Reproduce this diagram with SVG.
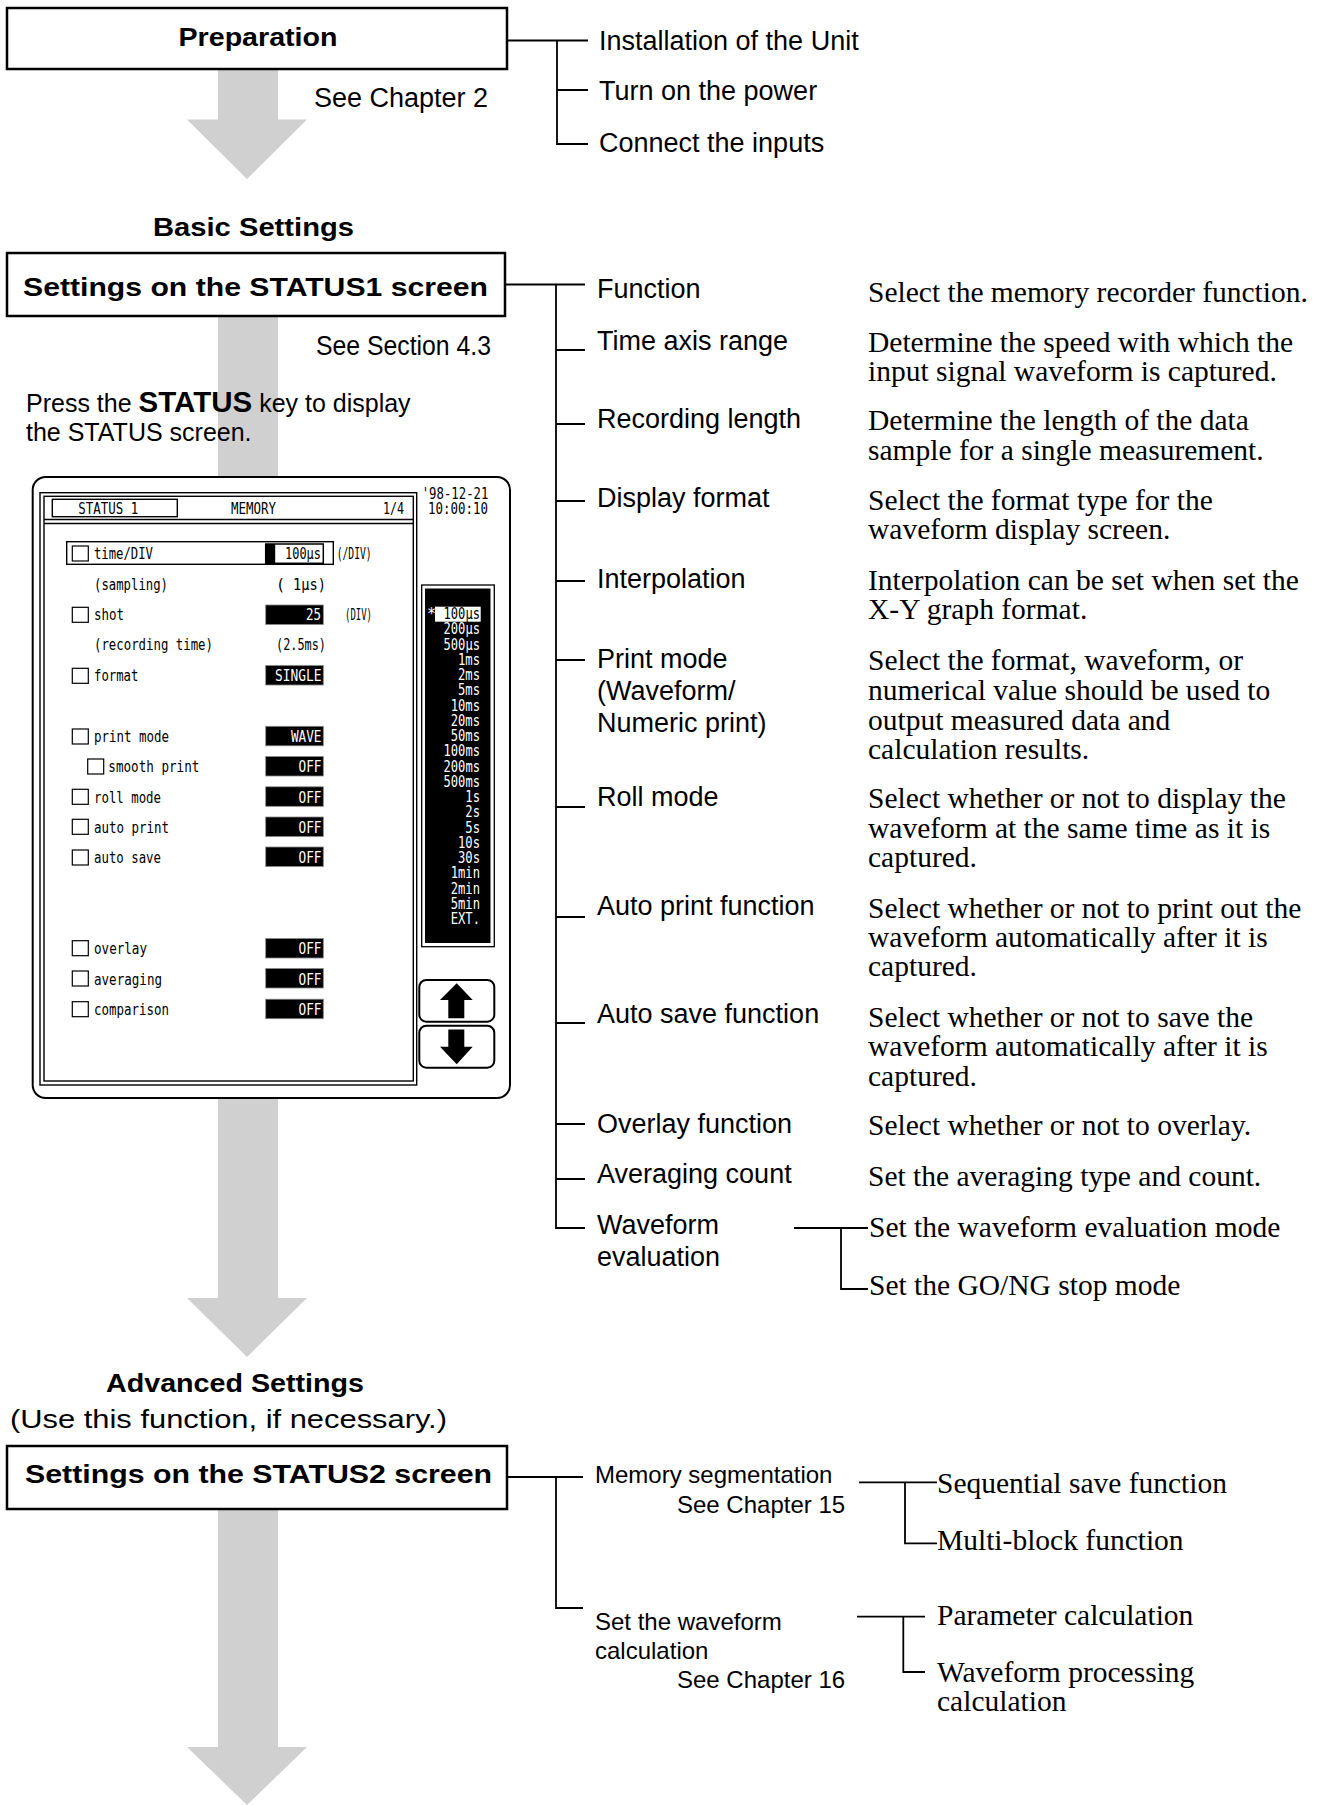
<svg xmlns="http://www.w3.org/2000/svg" width="1329" height="1805" viewBox="0 0 1329 1805">
<style>
.box{fill:#fff;stroke:#000;stroke-width:2.5}
.h{font-family:"Liberation Sans",Arial,sans-serif;font-weight:bold;font-size:26px;fill:#000}
.hr{font-family:"Liberation Sans",Arial,sans-serif;font-size:26px;fill:#000}
.lb{font-family:"Liberation Sans",Arial,sans-serif;font-size:27px;fill:#000}
.sm{font-family:"Liberation Sans",Arial,sans-serif;font-size:24px;fill:#000}
.pn{font-family:"Liberation Sans",Arial,sans-serif;font-size:25px;fill:#000}
.ds{font-family:"Liberation Serif","Times New Roman",serif;font-size:29.5px;fill:#000}
.ln{fill:none;stroke:#000;stroke-width:1.8}
.gray{fill:#d0d0d0}
.px{font-family:"DejaVu Sans Mono","Liberation Mono",monospace;font-size:15px;fill:#000}
.pw{font-family:"DejaVu Sans Mono","Liberation Mono",monospace;font-size:15px;fill:#fff}
.cb{fill:#fff;stroke:#000;stroke-width:1.2}
.fr{fill:none;stroke:#000;stroke-width:1.4}
.vb{fill:#000;stroke:#888;stroke-width:0.8}
</style>

<g id="flow-arrows">
  <polygon class="gray" points="218,69 278,69 278,119.5 307,119.5 247,179 187,119.5 218,119.5"/>
  <polygon class="gray" points="218,317 278,317 278,1298 307,1298 247,1357 187,1298 218,1298"/>
  <polygon class="gray" points="218,1509 278,1509 278,1747 307,1747 247,1805 187,1747 218,1747"/>
</g>

<g id="connectors">
  <path class="ln" d="M507,40.5 H588 M557,40.5 V144 H588 M557,90 H588"/>
  <path class="ln" d="M505,284.5 H585 M556,284.5 V1228 H585 M556,350 H585 M556,424 H585 M556,501 H585 M556,581 H585 M556,660 H585 M556,807 H585 M556,917 H585 M556,1023 H585 M556,1124 H585 M556,1179 H585"/>
  <path class="ln" d="M794,1228 H868 M841,1228 V1289 H868"/>
  <path class="ln" d="M508,1477 H583 M556,1477 V1608 H583"/>
  <path class="ln" d="M859,1482.3 H937 M905,1482.3 V1543.3 H937"/>
  <path class="ln" d="M857,1616.7 H925 M903.3,1616.7 V1672 H925"/>
</g>

<g id="node-preparation">
  <rect class="box" x="7" y="8" width="500" height="61"/>
  <text class="h" x="178.5" y="46" textLength="159" lengthAdjust="spacingAndGlyphs">Preparation</text>
  <text class="lb" x="314" y="107">See Chapter 2</text>
</g>

<g id="prep-items">
  <text class="lb" x="599" y="50">Installation of the Unit</text>
  <text class="lb" x="599" y="100">Turn on the power</text>
  <text class="lb" x="599" y="152">Connect the inputs</text>
</g>

<text id="title-basic" class="h" x="153" y="236" textLength="201" lengthAdjust="spacingAndGlyphs">Basic Settings</text>

<g id="node-status1">
  <rect class="box" x="7" y="253" width="498" height="63"/>
  <text class="h" x="23" y="296" textLength="465" lengthAdjust="spacingAndGlyphs">Settings on the STATUS1 screen</text>
  <text class="lb" x="316" y="355" font-size="25" textLength="175" lengthAdjust="spacingAndGlyphs">See Section 4.3</text>
</g>

<g id="press-note">
  <text class="pn" x="26" y="412">Press the <tspan font-weight="bold" font-size="29.5">STATUS</tspan> key to display</text>
  <text class="pn" x="26" y="441">the STATUS screen.</text>
</g>

<g id="status-screen">
  <rect x="32.7" y="477" width="477.3" height="621" rx="13" fill="#fff" stroke="#000" stroke-width="2"/>
  <rect class="fr" x="40" y="492.7" width="376.7" height="592.3"/>
  <rect class="fr" x="44" y="496.3" width="369.3" height="584.7"/>
  <path class="fr" d="M44,519.5 H413.3 M44,523.5 H413.3"/>
  <rect class="fr" x="52.3" y="499.3" width="125" height="17.4"/>
  <text class="px" x="78.3" y="514" textLength="60" lengthAdjust="spacingAndGlyphs">STATUS 1</text>
  <text class="px" x="231" y="514" textLength="45" lengthAdjust="spacingAndGlyphs">MEMORY</text>
  <text class="px" x="383" y="514" textLength="21" lengthAdjust="spacingAndGlyphs">1/4</text>
  <text class="px" x="421.7" y="499" textLength="66.7" lengthAdjust="spacingAndGlyphs">'98-12-21</text>
  <text class="px" x="428" y="514" textLength="60" lengthAdjust="spacingAndGlyphs">10:00:10</text>

  <rect class="fr" x="66.7" y="541.7" width="266.6" height="22.6" stroke-width="1.2"/>
  <rect x="265.7" y="544" width="57.6" height="19.3" fill="#fff" stroke="#000" stroke-width="1.5"/>
  <rect x="265.7" y="544" width="9.5" height="19.3" fill="#000"/>
  <text class="px" x="285" y="559" textLength="36" lengthAdjust="spacingAndGlyphs">100μs</text>
  <text class="px" x="336.7" y="559" font-size="12.5" textLength="35" lengthAdjust="spacingAndGlyphs">(/DIV)</text>

  <g id="lcd-rows">
    <rect class="cb" x="72.3" y="546" width="16" height="15"/>
    <text class="px" x="94" y="559" textLength="59" lengthAdjust="spacingAndGlyphs">time/DIV</text>
    <text class="px" x="94" y="589.5" textLength="74" lengthAdjust="spacingAndGlyphs">(sampling)</text>
    <text class="px" x="276" y="589.5">(</text>
    <text class="px" x="293" y="589.5" textLength="33" lengthAdjust="spacingAndGlyphs">1μs)</text>

    <rect class="cb" x="72.3" y="607.3" width="16" height="15"/>
    <text class="px" x="94" y="620" textLength="30" lengthAdjust="spacingAndGlyphs">shot</text>
    <rect class="vb" x="265.7" y="605" width="57.6" height="19.5"/>
    <text class="pw" x="306" y="620" textLength="15" lengthAdjust="spacingAndGlyphs">25</text>
    <text class="px" x="345" y="620" font-size="12.5" textLength="27" lengthAdjust="spacingAndGlyphs">(DIV)</text>

    <text class="px" x="94" y="650" textLength="119" lengthAdjust="spacingAndGlyphs">(recording time)</text>
    <text class="px" x="276" y="650" textLength="50" lengthAdjust="spacingAndGlyphs">(2.5ms)</text>

    <rect class="cb" x="72.3" y="668.3" width="16" height="15"/>
    <text class="px" x="94" y="680.5" textLength="44.4" lengthAdjust="spacingAndGlyphs">format</text>
    <rect class="vb" x="265.7" y="665.5" width="57.6" height="19.5"/>
    <text class="pw" x="275" y="680.5" textLength="46.5" lengthAdjust="spacingAndGlyphs">SINGLE</text>

    <rect class="cb" x="72.3" y="729" width="16" height="15"/>
    <text class="px" x="94" y="741.5" textLength="75" lengthAdjust="spacingAndGlyphs">print mode</text>
    <rect class="vb" x="265.7" y="726.3" width="57.6" height="19.5"/>
    <text class="pw" x="291" y="741.5" textLength="30.5" lengthAdjust="spacingAndGlyphs">WAVE</text>

    <rect class="cb" x="87.7" y="759" width="16" height="15"/>
    <text class="px" x="108.3" y="771.5" textLength="91" lengthAdjust="spacingAndGlyphs">smooth print</text>
    <rect class="vb" x="265.7" y="756.5" width="57.6" height="19.5"/>
    <text class="pw" x="298.5" y="771.5" textLength="23" lengthAdjust="spacingAndGlyphs">OFF</text>

    <rect class="cb" x="72.3" y="789.3" width="16" height="15"/>
    <text class="px" x="94" y="802.5" textLength="67" lengthAdjust="spacingAndGlyphs">roll mode</text>
    <rect class="vb" x="265.7" y="786.8" width="57.6" height="19.5"/>
    <text class="pw" x="298.5" y="802.5" textLength="23" lengthAdjust="spacingAndGlyphs">OFF</text>

    <rect class="cb" x="72.3" y="819.3" width="16" height="15"/>
    <text class="px" x="94" y="832.5" textLength="75" lengthAdjust="spacingAndGlyphs">auto print</text>
    <rect class="vb" x="265.7" y="817" width="57.6" height="19.5"/>
    <text class="pw" x="298.5" y="832.5" textLength="23" lengthAdjust="spacingAndGlyphs">OFF</text>

    <rect class="cb" x="72.3" y="850" width="16" height="15"/>
    <text class="px" x="94" y="863" textLength="67" lengthAdjust="spacingAndGlyphs">auto save</text>
    <rect class="vb" x="265.7" y="847" width="57.6" height="19.5"/>
    <text class="pw" x="298.5" y="863" textLength="23" lengthAdjust="spacingAndGlyphs">OFF</text>

    <rect class="cb" x="72.3" y="940.7" width="16" height="15"/>
    <text class="px" x="94" y="954" textLength="53" lengthAdjust="spacingAndGlyphs">overlay</text>
    <rect class="vb" x="265.7" y="938.5" width="57.6" height="19.5"/>
    <text class="pw" x="298.5" y="954" textLength="23" lengthAdjust="spacingAndGlyphs">OFF</text>

    <rect class="cb" x="72.3" y="971" width="16" height="15"/>
    <text class="px" x="94" y="984.5" textLength="68" lengthAdjust="spacingAndGlyphs">averaging</text>
    <rect class="vb" x="265.7" y="968.5" width="57.6" height="19.5"/>
    <text class="pw" x="298.5" y="984.5" textLength="23" lengthAdjust="spacingAndGlyphs">OFF</text>

    <rect class="cb" x="72.3" y="1001.7" width="16" height="15"/>
    <text class="px" x="94" y="1015" textLength="75" lengthAdjust="spacingAndGlyphs">comparison</text>
    <rect class="vb" x="265.7" y="999.2" width="57.6" height="19.5"/>
    <text class="pw" x="298.5" y="1015" textLength="23" lengthAdjust="spacingAndGlyphs">OFF</text>
  </g>

  <g id="range-list">
    <rect x="421.7" y="585" width="72.6" height="361.7" fill="#fff" stroke="#000" stroke-width="1.3"/>
    <rect x="425" y="588.5" width="65.5" height="354.5" fill="#000"/>
    <text class="pw" x="427" y="619">*</text>
    <rect x="435" y="606.7" width="45.7" height="15" fill="#fff"/>
    <g text-anchor="end">
      <text class="px" x="480" y="619" textLength="36.5" lengthAdjust="spacingAndGlyphs">100μs</text>
      <text class="pw" x="480" y="634.3" textLength="36.5" lengthAdjust="spacingAndGlyphs">200μs</text>
      <text class="pw" x="480" y="649.5" textLength="36.5" lengthAdjust="spacingAndGlyphs">500μs</text>
      <text class="pw" x="480" y="664.8" textLength="22" lengthAdjust="spacingAndGlyphs">1ms</text>
      <text class="pw" x="480" y="680" textLength="22" lengthAdjust="spacingAndGlyphs">2ms</text>
      <text class="pw" x="480" y="695.3" textLength="22" lengthAdjust="spacingAndGlyphs">5ms</text>
      <text class="pw" x="480" y="710.5" textLength="29.3" lengthAdjust="spacingAndGlyphs">10ms</text>
      <text class="pw" x="480" y="725.8" textLength="29.3" lengthAdjust="spacingAndGlyphs">20ms</text>
      <text class="pw" x="480" y="741" textLength="29.3" lengthAdjust="spacingAndGlyphs">50ms</text>
      <text class="pw" x="480" y="756.3" textLength="36.5" lengthAdjust="spacingAndGlyphs">100ms</text>
      <text class="pw" x="480" y="771.5" textLength="36.5" lengthAdjust="spacingAndGlyphs">200ms</text>
      <text class="pw" x="480" y="786.8" textLength="36.5" lengthAdjust="spacingAndGlyphs">500ms</text>
      <text class="pw" x="480" y="802" textLength="14.7" lengthAdjust="spacingAndGlyphs">1s</text>
      <text class="pw" x="480" y="817.3" textLength="14.7" lengthAdjust="spacingAndGlyphs">2s</text>
      <text class="pw" x="480" y="832.5" textLength="14.7" lengthAdjust="spacingAndGlyphs">5s</text>
      <text class="pw" x="480" y="847.8" textLength="22" lengthAdjust="spacingAndGlyphs">10s</text>
      <text class="pw" x="480" y="863" textLength="22" lengthAdjust="spacingAndGlyphs">30s</text>
      <text class="pw" x="480" y="878.3" textLength="29.3" lengthAdjust="spacingAndGlyphs">1min</text>
      <text class="pw" x="480" y="893.5" textLength="29.3" lengthAdjust="spacingAndGlyphs">2min</text>
      <text class="pw" x="480" y="908.8" textLength="29.3" lengthAdjust="spacingAndGlyphs">5min</text>
      <text class="pw" x="480" y="924" textLength="29.3" lengthAdjust="spacingAndGlyphs">EXT.</text>
    </g>
  </g>

  <g id="scroll-buttons">
    <rect x="419.3" y="980" width="75" height="41.7" rx="7" fill="#fff" stroke="#000" stroke-width="2"/>
    <polygon points="456.7,983.3 472.7,1000 464.3,1000 464.3,1018.3 448.3,1018.3 448.3,1000 440,1000" fill="#000"/>
    <rect x="419.3" y="1025.7" width="75" height="42" rx="7" fill="#fff" stroke="#000" stroke-width="2"/>
    <polygon points="448.3,1029.5 464.3,1029.5 464.3,1046.7 472.7,1046.7 456.7,1064.3 440,1046.7 448.3,1046.7" fill="#000"/>
  </g>
</g>

<g id="status1-items">
  <text class="lb" x="597" y="298">Function</text>
  <text class="lb" x="597" y="350">Time axis range</text>
  <text class="lb" x="597" y="428">Recording length</text>
  <text class="lb" x="597" y="507">Display format</text>
  <text class="lb" x="597" y="588">Interpolation</text>
  <text class="lb" x="597" y="668">Print mode</text>
  <text class="lb" x="597" y="700">(Waveform/</text>
  <text class="lb" x="597" y="732">Numeric print)</text>
  <text class="lb" x="597" y="806">Roll mode</text>
  <text class="lb" x="597" y="915">Auto print function</text>
  <text class="lb" x="597" y="1023">Auto save function</text>
  <text class="lb" x="597" y="1133">Overlay function</text>
  <text class="lb" x="597" y="1183">Averaging count</text>
  <text class="lb" x="597" y="1234">Waveform</text>
  <text class="lb" x="597" y="1266">evaluation</text>
</g>

<g id="status1-descriptions">
  <text class="ds" x="868" y="302">Select the memory recorder function.</text>
  <text class="ds" x="868" y="352">Determine the speed with which the</text>
  <text class="ds" x="868" y="381">input signal waveform is captured.</text>
  <text class="ds" x="868" y="430">Determine the length of the data</text>
  <text class="ds" x="868" y="459.5">sample for a single measurement.</text>
  <text class="ds" x="868" y="509.5">Select the format type for the</text>
  <text class="ds" x="868" y="539">waveform display screen.</text>
  <text class="ds" x="868" y="589.5">Interpolation can be set when set the</text>
  <text class="ds" x="868" y="619">X-Y graph format.</text>
  <text class="ds" x="868" y="670">Select the format, waveform, or</text>
  <text class="ds" x="868" y="699.5">numerical value should be used to</text>
  <text class="ds" x="868" y="729.5">output measured data and</text>
  <text class="ds" x="868" y="759">calculation results.</text>
  <text class="ds" x="868" y="808">Select whether or not to display the</text>
  <text class="ds" x="868" y="837.5">waveform at the same time as it is</text>
  <text class="ds" x="868" y="867">captured.</text>
  <text class="ds" x="868" y="917.5">Select whether or not to print out the</text>
  <text class="ds" x="868" y="946.5">waveform automatically after it is</text>
  <text class="ds" x="868" y="976">captured.</text>
  <text class="ds" x="868" y="1026.5">Select whether or not to save the</text>
  <text class="ds" x="868" y="1056">waveform automatically after it is</text>
  <text class="ds" x="868" y="1085.5">captured.</text>
  <text class="ds" x="868" y="1135">Select whether or not to overlay.</text>
  <text class="ds" x="868" y="1186">Set the averaging type and count.</text>
  <text class="ds" x="869" y="1236.5">Set the waveform evaluation mode</text>
  <text class="ds" x="869" y="1295">Set the GO/NG stop mode</text>
</g>

<g id="title-advanced">
  <text class="h" x="106" y="1392" textLength="258" lengthAdjust="spacingAndGlyphs">Advanced Settings</text>
  <text class="hr" x="10" y="1428" textLength="437" lengthAdjust="spacingAndGlyphs">(Use this function, if necessary.)</text>
</g>

<g id="node-status2">
  <rect class="box" x="7" y="1446" width="500" height="63"/>
  <text class="h" x="25" y="1483" textLength="467" lengthAdjust="spacingAndGlyphs">Settings on the STATUS2 screen</text>
</g>

<g id="status2-items">
  <text class="sm" x="595" y="1483">Memory segmentation</text>
  <text class="sm" x="677" y="1513">See Chapter 15</text>
  <text class="sm" x="595" y="1630">Set the waveform</text>
  <text class="sm" x="595" y="1659">calculation</text>
  <text class="sm" x="677" y="1688">See Chapter 16</text>
  <text class="ds" x="937" y="1493">Sequential save function</text>
  <text class="ds" x="937" y="1550">Multi-block function</text>
  <text class="ds" x="937" y="1625">Parameter calculation</text>
  <text class="ds" x="937" y="1682">Waveform processing</text>
  <text class="ds" x="937" y="1711">calculation</text>
</g>
</svg>
